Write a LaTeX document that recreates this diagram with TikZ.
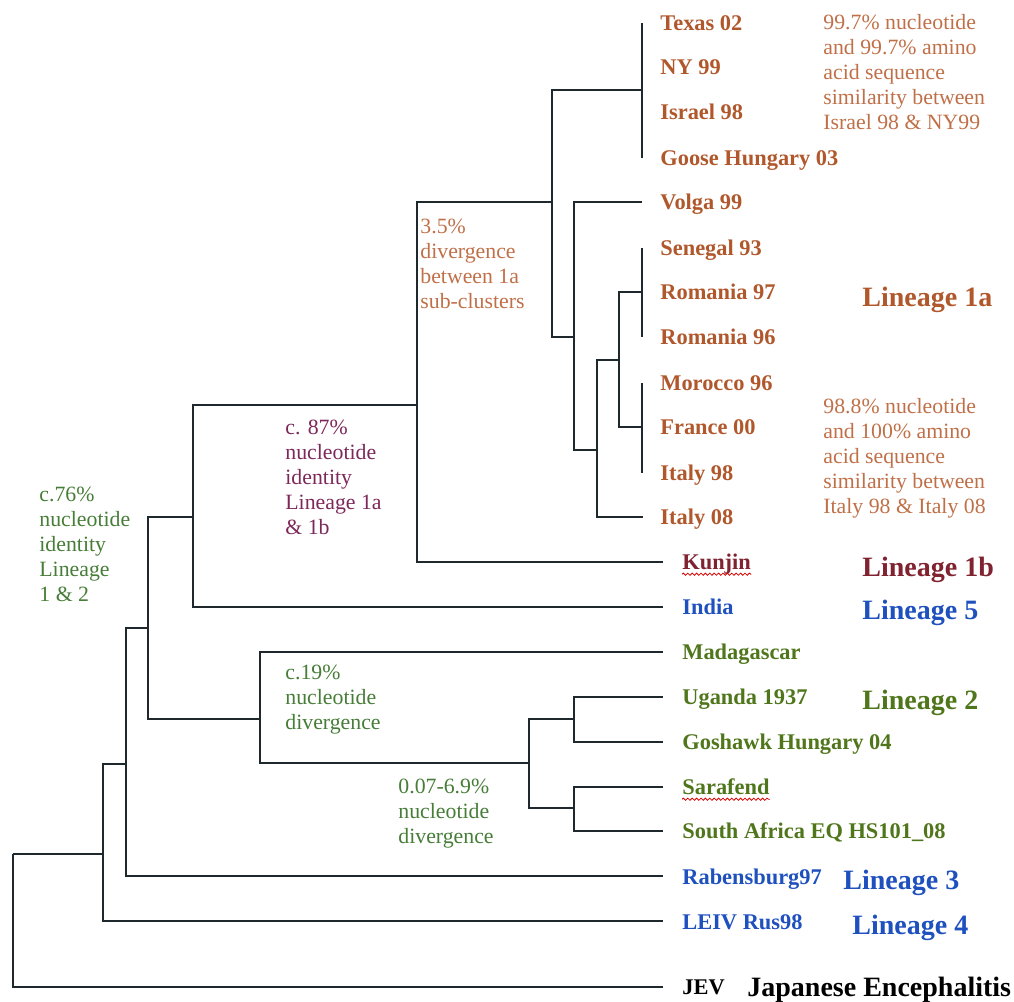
\documentclass[tikz,border=0pt]{standalone}
\usepackage{fontspec}
\setmainfont{Liberation Serif}
\usetikzlibrary{decorations.pathmorphing}
\definecolor{ora}{RGB}{176,88,44}
\definecolor{oralight}{RGB}{192,112,72}
\definecolor{maroonc}{RGB}{128,34,48}
\definecolor{purp}{RGB}{125,40,90}
\definecolor{blu}{RGB}{30,80,190}
\definecolor{grn}{RGB}{80,118,28}
\definecolor{grnnote}{RGB}{70,125,55}
\definecolor{treeline}{RGB}{30,40,45}
\newcommand\notelines[1]{\begin{tabular}[t]{@{}l@{}}#1\end{tabular}}
\tikzset{
  br/.style={line width=1.1pt, draw=treeline},
  leaf/.style={anchor=base west, inner sep=0pt, font=\fontsize{11.2}{13}\selectfont\bfseries},
  lin/.style={anchor=base west, inner sep=0pt, font=\fontsize{14}{16}\selectfont\bfseries},
  note/.style={anchor=base west, inner sep=0pt, font=\fontsize{10.9}{12.5}\selectfont},
  squig/.style={draw=red!85!black, line width=0.4pt, decorate, decoration={snake, amplitude=0.55pt, segment length=2.2pt}}
}
\begin{document}
\begin{tikzpicture}[x=0.5pt,y=-0.5pt]
\useasboundingbox (0,0) rectangle (1014,1002);
% internal nodes (connection points)
\coordinate (r0) at (13,854);
\coordinate (n1) at (103,854);
\coordinate (n2) at (126,764);
\coordinate (n3) at (148,628);
\coordinate (n4) at (193,517);
\coordinate (n5) at (417,405);
\coordinate (n6) at (552,202);
\coordinate (n7) at (642,90);
\coordinate (n8) at (574,337);
\coordinate (n9) at (597,450);
\coordinate (n10) at (619,360);
\coordinate (n10a) at (642,292);
\coordinate (n10b) at (642,427);
\coordinate (n11) at (260,719);
\coordinate (n12) at (529,763);
\coordinate (n13) at (574,719);
\coordinate (n14) at (574,808);
% tips
\coordinate (tTexas) at (642,23);
\coordinate (tNY) at (642,67);
\coordinate (tIsrael) at (642,112);
\coordinate (tGoose) at (642,158);
\coordinate (tVolga) at (642,202);
\coordinate (tSenegal) at (642,248);
\coordinate (tRomA) at (642,292);
\coordinate (tRomB) at (642,337);
\coordinate (tMorocco) at (642,383);
\coordinate (tFrance) at (642,427);
\coordinate (tItalyA) at (642,473);
\coordinate (tItalyB) at (643,517);
\coordinate (tKunjin) at (663,562);
\coordinate (tIndia) at (663,607);
\coordinate (tMada) at (663,652);
\coordinate (tUganda) at (663,697);
\coordinate (tGoshawk) at (663,742);
\coordinate (tSarafend) at (663,787);
\coordinate (tSA) at (663,831);
\coordinate (tRab) at (663,876);
\coordinate (tLEIV) at (663,921);
\coordinate (tJEV) at (663,987);
% tree
\draw[br] (r0) |- (n1);
\draw[br] (r0) |- (tJEV);
\draw[br] (n1) |- (n2);
\draw[br] (n1) |- (tLEIV);
\draw[br] (n2) |- (n3);
\draw[br] (n2) |- (tRab);
\draw[br] (n3) |- (n4);
\draw[br] (n3) |- (n11);
\draw[br] (n4) |- (n5);
\draw[br] (n4) |- (tIndia);
\draw[br] (n5) |- (n6);
\draw[br] (n5) |- (tKunjin);
\draw[br] (n6) |- (n7);
\draw[br] (n6) |- (n8);
\draw[br] (n7) -- (tTexas);
\draw[br] (n7) -- (tGoose);
\draw[br] (n8) |- (tVolga);
\draw[br] (n8) |- (n9);
\draw[br] (n9) |- (n10);
\draw[br] (n9) |- (tItalyB);
\draw[br] (n10) |- (n10a);
\draw[br] (n10) |- (n10b);
\draw[br] (tSenegal) -- (tRomB);
\draw[br] (tMorocco) -- (tItalyA);
\draw[br] (n11) |- (tMada);
\draw[br] (n11) |- (n12);
\draw[br] (n12) |- (n13);
\draw[br] (n12) |- (n14);
\draw[br] (n13) |- (tUganda);
\draw[br] (n13) |- (tGoshawk);
\draw[br] (n14) |- (tSarafend);
\draw[br] (n14) |- (tSA);
% leaf labels
\node[leaf, text=ora] (Texas) at (660,30) {Texas 02};
\node[leaf, text=ora] (NY) at (660,74) {NY 99};
\node[leaf, text=ora] (Israel) at (660,119) {Israel 98};
\node[leaf, text=ora] (Goose) at (660,165) {Goose Hungary 03};
\node[leaf, text=ora] (Volga) at (660,209) {Volga 99};
\node[leaf, text=ora] (Senegal) at (660,255) {Senegal 93};
\node[leaf, text=ora] (RomA) at (660,299) {Romania 97};
\node[leaf, text=ora] (RomB) at (660,344) {Romania 96};
\node[leaf, text=ora] (Morocco) at (660,390) {Morocco 96};
\node[leaf, text=ora] (France) at (660,434) {France 00};
\node[leaf, text=ora] (ItalyA) at (660,480) {Italy 98};
\node[leaf, text=ora] (ItalyB) at (660,524) {Italy 08};
\node[leaf, text=maroonc] (Kunjin) at (682,569) {Kunjin};
\node[leaf, text=blu] (India) at (682,614) {India};
\node[leaf, text=grn] (Mada) at (682,659) {Madagascar};
\node[leaf, text=grn] (Uganda) at (682,704) {Uganda 1937};
\node[leaf, text=grn] (Goshawk) at (682,749) {Goshawk Hungary 04};
\node[leaf, text=grn] (Sarafend) at (682,794) {Sarafend};
\node[leaf, text=grn] (SA) at (682,838) {South Africa EQ HS101\_08};
\node[leaf, text=blu] (Rab) at (682,884) {Rabensburg97};
\node[leaf, text=blu] (LEIV) at (682,929) {LEIV Rus98};
\node[leaf, text=black] (JEV) at (682,994) {JEV};
% spell-check squiggles
\draw[squig] ([yshift=-2.6pt]Kunjin.base west) -- ([yshift=-2.6pt]Kunjin.base east);
\draw[squig] ([yshift=-2.6pt]Sarafend.base west) -- ([yshift=-2.6pt]Sarafend.base east);
% lineage labels
\node[lin, text=ora] (L1a) at (862,306) {Lineage 1a};
\node[lin, text=maroonc] (L1b) at (862,576) {Lineage 1b};
\node[lin, text=blu] (L5) at (862,619) {Lineage 5};
\node[lin, text=grn] (L2) at (862,709) {Lineage 2};
\node[lin, text=blu] (L3) at (843,889) {Lineage 3};
\node[lin, text=blu] (L4) at (852,934) {Lineage 4};
\node[lin, text=black] (JE) at (747,996) {Japanese Encephalitis};
% annotations
\node[note, text=oralight] (note99) at (823,29) {\notelines{99.7\% nucleotide\\and 99.7\% amino\\acid sequence\\similarity between\\Israel 98 \& NY99}};
\node[note, text=oralight] (note98) at (823,413) {\notelines{98.8\% nucleotide\\and 100\% amino\\acid sequence\\similarity between\\Italy 98 \& Italy 08}};
\node[note, text=oralight] (note35) at (420,233) {\notelines{3.5\%\\divergence\\between 1a\\sub-clusters}};
\node[note, text=purp] (note87) at (285,434) {\notelines{c. 87\%\\nucleotide\\identity\\Lineage 1a\\\& 1b}};
\node[note, text=grnnote] (note76) at (39,501) {\notelines{c.76\%\\nucleotide\\identity\\Lineage\\1 \& 2}};
\node[note, text=grnnote] (note19) at (285,679) {\notelines{c.19\%\\nucleotide\\divergence}};
\node[note, text=grnnote] (note007) at (398,793) {\notelines{0.07-6.9\%\\nucleotide\\divergence}};
\end{tikzpicture}
\end{document}
